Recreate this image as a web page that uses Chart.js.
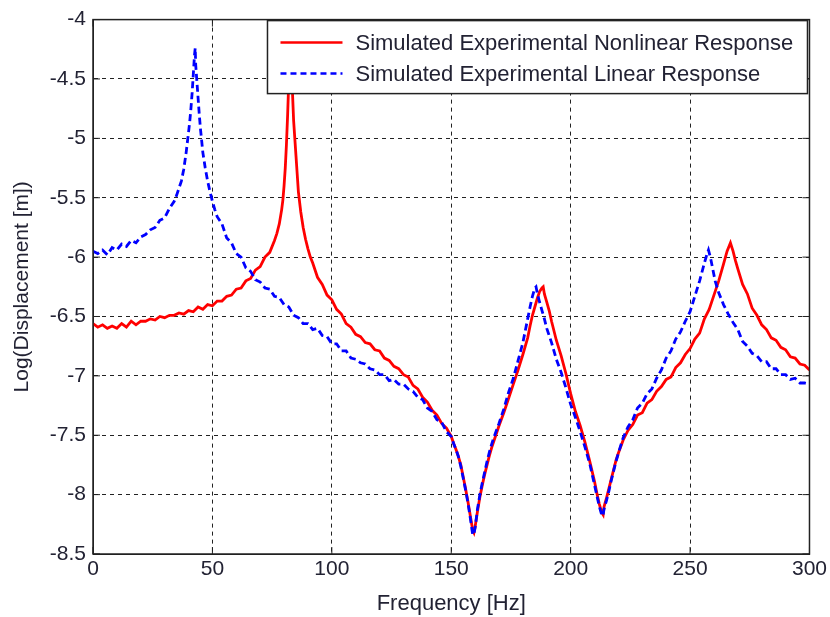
<!DOCTYPE html>
<html>
<head>
<meta charset="utf-8">
<script src="https://cdn.jsdelivr.net/npm/chart.js@4"></script>
<style>
  html, body { margin: 0; padding: 0; background: #fff; }
  #wrap { width: 830px; height: 617px; }
</style>
</head>
<body>
<div id="wrap"><canvas id="frf"></canvas></div>
<script>
// frequency [Hz] / log displacement [m]
const freqLinear = [0, 2, 4, 6, 8, 10, 12, 14, 16, 18, 20, 22, 24, 26, 28, 30, 32, 34, 35, 36, 37, 38, 39, 40, 40.5, 41, 41.5, 42, 42.5, 42.8, 43, 43.5, 44, 44.5, 45, 45.5, 46, 47, 48, 49, 50, 51, 52, 54, 56, 58, 60, 62, 64, 66, 68, 70, 72, 74, 76, 78, 80, 82, 84, 86, 88, 90, 92, 94, 96, 98, 100, 102, 104, 106, 108, 110, 112, 114, 116, 118, 120, 122, 124, 126, 128, 130, 132, 134, 136, 138, 140, 142, 144, 146, 148, 150, 151, 152, 153, 154, 155, 156, 157, 158, 159, 159.5, 160, 161, 162, 163, 164, 165, 166, 167, 168, 170, 172, 174, 176, 178, 180, 181, 182, 183, 184, 185, 185.5, 186, 187, 188, 189, 190, 192, 194, 196, 198, 200, 202, 204, 206, 208, 210, 211, 212, 213, 213.5, 214, 215, 216, 217, 218, 219, 220, 222, 224, 226, 228, 230, 232, 234, 236, 238, 240, 242, 244, 246, 248, 250, 252, 254, 256, 257, 257.7, 258.5, 259.5, 260.5, 262, 264, 266, 268, 270, 272, 274, 276, 278, 280, 282, 284, 286, 288, 290, 292, 294, 296, 298, 300];
const dispLinear = [-5.95, -5.97, -5.94, -5.98, -5.92, -5.94, -5.89, -5.91, -5.86, -5.88, -5.83, -5.81, -5.77, -5.75, -5.69, -5.67, -5.59, -5.53, -5.48, -5.42, -5.36, -5.26, -5.12, -4.95, -4.86, -4.75, -4.62, -4.46, -4.30, -4.24, -4.38, -4.52, -4.66, -4.80, -4.92, -5.02, -5.12, -5.25, -5.36, -5.45, -5.53, -5.60, -5.66, -5.72, -5.84, -5.88, -5.97, -6.00, -6.09, -6.12, -6.19, -6.21, -6.26, -6.27, -6.33, -6.34, -6.40, -6.42, -6.49, -6.51, -6.56, -6.56, -6.61, -6.60, -6.66, -6.67, -6.73, -6.73, -6.79, -6.79, -6.85, -6.86, -6.89, -6.90, -6.94, -6.95, -6.99, -6.99, -7.04, -7.03, -7.07, -7.07, -7.11, -7.13, -7.18, -7.20, -7.27, -7.30, -7.37, -7.39, -7.47, -7.51, -7.57, -7.62, -7.68, -7.76, -7.86, -7.96, -8.07, -8.20, -8.34, -8.33, -8.28, -8.12, -8.00, -7.90, -7.81, -7.72, -7.64, -7.57, -7.51, -7.40, -7.28, -7.14, -7.02, -6.87, -6.72, -6.62, -6.52, -6.42, -6.33, -6.26, -6.25, -6.30, -6.38, -6.45, -6.52, -6.60, -6.72, -6.86, -6.97, -7.10, -7.24, -7.35, -7.47, -7.60, -7.74, -7.92, -8.01, -8.10, -8.17, -8.18, -8.12, -8.05, -7.97, -7.88, -7.80, -7.72, -7.65, -7.52, -7.43, -7.37, -7.27, -7.23, -7.15, -7.11, -7.02, -6.95, -6.85, -6.79, -6.69, -6.63, -6.54, -6.46, -6.33, -6.20, -6.05, -5.98, -5.94, -6.00, -6.10, -6.20, -6.30, -6.40, -6.48, -6.55, -6.61, -6.71, -6.75, -6.81, -6.83, -6.88, -6.88, -6.94, -6.94, -6.99, -6.99, -7.03, -7.02, -7.06, -7.06, -7.07];

const freqNonlinear = [0, 2, 4, 6, 8, 10, 12, 14, 16, 18, 20, 22, 24, 26, 28, 30, 32, 34, 36, 38, 40, 42, 44, 46, 48, 50, 52, 54, 56, 58, 60, 62, 64, 66, 68, 70, 72, 74, 76, 77, 78, 79, 79.5, 80, 80.5, 81, 81.5, 82, 82.4, 82.7, 83, 83.5, 84, 84.5, 85, 85.5, 86, 87, 88, 89, 90, 91, 92, 94, 96, 98, 100, 102, 104, 106, 108, 110, 112, 114, 116, 118, 120, 122, 124, 126, 128, 130, 132, 134, 136, 138, 140, 142, 144, 146, 148, 150, 151, 152, 153, 154, 155, 156, 157, 158, 159, 159.5, 160, 161, 162, 163, 164, 165, 166, 167, 168, 170, 172, 174, 176, 178, 180, 182, 183, 184, 185, 186, 187, 188, 188.5, 189, 190, 191, 192, 194, 196, 198, 200, 202, 204, 206, 208, 210, 211, 212, 213, 213.6, 214, 215, 216, 217, 218, 219, 220, 222, 224, 226, 228, 230, 232, 234, 236, 238, 240, 242, 244, 246, 248, 250, 252, 254, 256, 258, 260, 262, 264, 265.5, 266.9, 268, 269, 270, 272, 274, 276, 278, 280, 282, 284, 286, 288, 290, 292, 294, 296, 298, 300];
const dispNonlinear = [-6.56, -6.59, -6.57, -6.60, -6.58, -6.60, -6.56, -6.59, -6.54, -6.57, -6.54, -6.54, -6.52, -6.53, -6.50, -6.51, -6.49, -6.49, -6.47, -6.48, -6.45, -6.46, -6.42, -6.44, -6.40, -6.41, -6.37, -6.37, -6.33, -6.32, -6.27, -6.26, -6.20, -6.18, -6.11, -6.08, -6.00, -5.96, -5.86, -5.80, -5.72, -5.60, -5.52, -5.40, -5.25, -5.05, -4.80, -4.50, -4.25, -4.15, -4.30, -4.60, -4.85, -5.00, -5.15, -5.30, -5.45, -5.62, -5.75, -5.85, -5.93, -6.00, -6.05, -6.17, -6.23, -6.32, -6.36, -6.44, -6.48, -6.56, -6.59, -6.65, -6.67, -6.72, -6.73, -6.78, -6.79, -6.85, -6.87, -6.92, -6.94, -6.99, -7.01, -7.08, -7.11, -7.18, -7.22, -7.29, -7.33, -7.40, -7.44, -7.51, -7.57, -7.62, -7.68, -7.75, -7.85, -7.95, -8.06, -8.18, -8.30, -8.32, -8.27, -8.14, -8.02, -7.92, -7.83, -7.75, -7.67, -7.60, -7.54, -7.42, -7.31, -7.19, -7.07, -6.95, -6.82, -6.68, -6.58, -6.49, -6.42, -6.35, -6.29, -6.26, -6.25, -6.31, -6.38, -6.45, -6.54, -6.70, -6.83, -6.98, -7.15, -7.30, -7.42, -7.56, -7.72, -7.89, -7.99, -8.08, -8.15, -8.17, -8.10, -8.03, -7.95, -7.87, -7.79, -7.71, -7.65, -7.54, -7.46, -7.41, -7.33, -7.31, -7.23, -7.20, -7.13, -7.09, -7.03, -7.01, -6.93, -6.89, -6.82, -6.77, -6.69, -6.64, -6.52, -6.44, -6.32, -6.20, -6.06, -5.95, -5.88, -5.95, -6.03, -6.10, -6.23, -6.31, -6.43, -6.49, -6.57, -6.61, -6.68, -6.70, -6.76, -6.78, -6.84, -6.85, -6.90, -6.91, -6.95];

const seriesLabels = ['Simulated Experimental Nonlinear Response', 'Simulated Experimental Linear Response'];
const xTicks = [0, 50, 100, 150, 200, 250, 300];
const yTicks = [-4, -4.5, -5, -5.5, -6, -6.5, -7, -7.5, -8, -8.5];

const FONT = "'Liberation Sans', Arial, sans-serif";
const TEXT = '#222233';
const zip = (xs, ys) => xs.map((x, i) => ({ x, y: ys[i] }));

// matlab style box with inward ticks, legend drawn on top of the lines
const axesBox = {
    id: 'axesBox',
    afterDatasetsDraw(chart) {
        const { ctx, chartArea: a, scales } = chart;
        ctx.save();
        ctx.strokeStyle = '#222';
        ctx.lineWidth = 1.5;
        ctx.setLineDash([]);
        ctx.strokeRect(a.left, a.top, a.right - a.left, a.bottom - a.top);
        ctx.lineWidth = 1;
        ctx.beginPath();
        xTicks.forEach((t) => {
            const px = scales.x.getPixelForValue(t);
            ctx.moveTo(px, a.bottom); ctx.lineTo(px, a.bottom - 7);
            ctx.moveTo(px, a.top); ctx.lineTo(px, a.top + 7);
        });
        yTicks.forEach((t) => {
            const py = scales.y.getPixelForValue(t);
            ctx.moveTo(a.left, py); ctx.lineTo(a.left + 7, py);
            ctx.moveTo(a.right, py); ctx.lineTo(a.right - 7, py);
        });
        ctx.stroke();

        const bx = a.right - 542, by = a.top + 1, bw = 540, bh = 73;
        ctx.fillStyle = '#fff';
        ctx.fillRect(bx, by, bw, bh);
        ctx.lineWidth = 1.5;
        ctx.strokeStyle = '#222';
        ctx.strokeRect(bx, by, bw, bh);
        const rows = [
            { y: by + 22, color: '#ff0000', dash: [] },
            { y: by + 53, color: '#0000ff', dash: [6, 4] },
        ];
        ctx.font = `22px ${FONT}`;
        ctx.textBaseline = 'middle';
        rows.forEach((r, i) => {
            ctx.strokeStyle = r.color;
            ctx.lineWidth = 2.5;
            ctx.setLineDash(r.dash);
            ctx.beginPath();
            ctx.moveTo(bx + 13, r.y);
            ctx.lineTo(bx + 75, r.y);
            ctx.stroke();
            ctx.setLineDash([]);
            ctx.fillStyle = TEXT;
            ctx.fillText(seriesLabels[i], bx + 88, r.y + 1);
        });
        ctx.restore();
    },
};

new Chart(document.getElementById('frf'), {
    type: 'line',
    data: {
        datasets: [
            {
                label: seriesLabels[0],
                data: zip(freqNonlinear, dispNonlinear),
                borderColor: '#ff0000',
                borderWidth: 2.8,
                pointRadius: 0,
                tension: 0,
                order: 1,
            },
            {
                label: seriesLabels[1],
                data: zip(freqLinear, dispLinear),
                borderColor: '#0000ff',
                borderWidth: 2.8,
                borderDash: [7, 4],
                pointRadius: 0,
                tension: 0,
                order: 0,
            },
        ],
    },
    options: {
        responsive: true,
        maintainAspectRatio: false,
        animation: false,
        layout: { padding: { top: 12, right: 20, left: 0, bottom: 0 } },
        plugins: { legend: { display: false }, tooltip: { enabled: false } },
        scales: {
            x: {
                type: 'linear',
                min: 0,
                max: 300,
                afterFit: (s) => { s.height = 63; },
                afterBuildTicks: (s) => { s.ticks = xTicks.map((v) => ({ value: v })); },
                ticks: { color: TEXT, font: { family: FONT, size: 21 }, padding: 3, maxRotation: 0, callback: (v) => `${v}` },
                grid: { color: '#222', drawTicks: false, lineWidth: 1 },
                border: { dash: [4, 4], color: '#222' },
                title: { display: true, text: 'Frequency [Hz]', color: TEXT, font: { family: FONT, size: 22 }, padding: { top: 0, bottom: 0 } },
            },
            y: {
                type: 'linear',
                min: -8.5,
                max: -4,
                afterFit: (s) => { s.width = 93; },
                afterBuildTicks: (s) => { s.ticks = yTicks.map((v) => ({ value: v })); },
                ticks: { color: TEXT, font: { family: FONT, size: 21 }, padding: 7, callback: (v) => `${v}` },
                grid: { color: '#222', drawTicks: false, lineWidth: 1 },
                border: { dash: [4, 4], color: '#222' },
                title: { display: true, text: 'Log(Displacement [m])', color: TEXT, font: { family: FONT, size: 21 }, padding: { top: 10, bottom: 0 } },
            },
        },
    },
    plugins: [axesBox],
});
</script>
</body>
</html>
